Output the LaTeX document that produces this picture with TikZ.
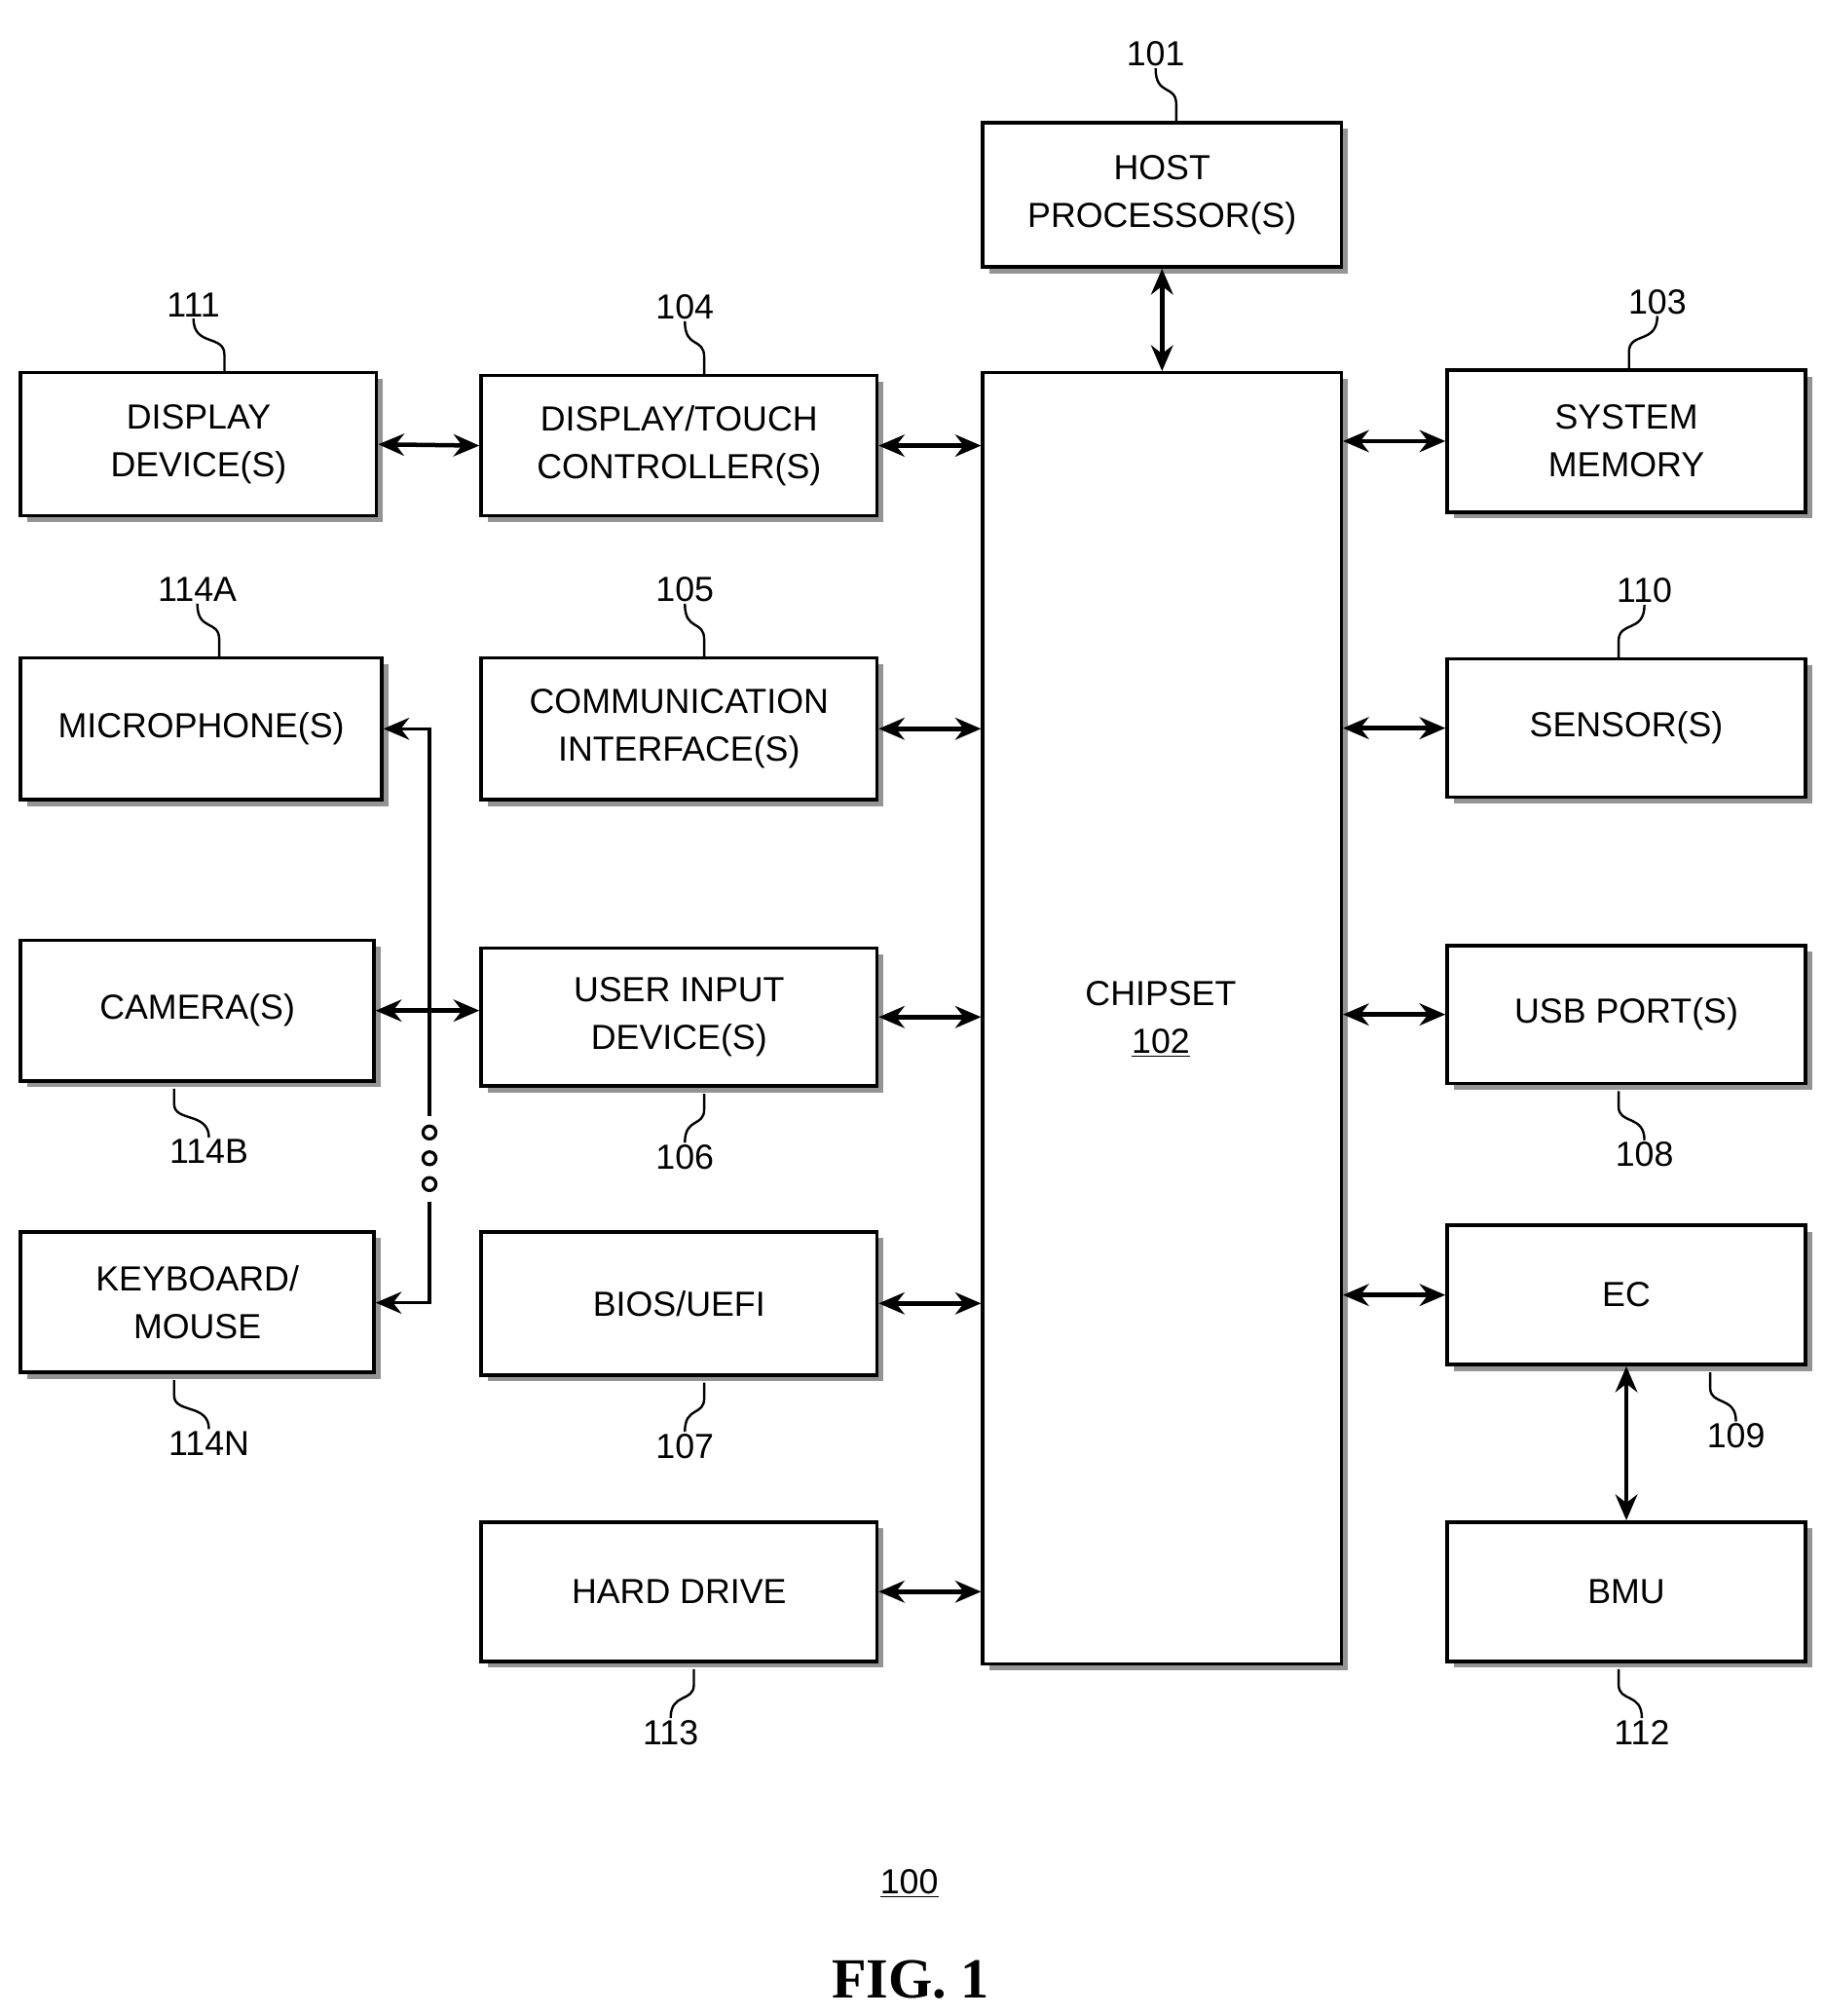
\documentclass[tikz,border=0pt]{standalone}
\usepackage{fontspec}
\setmainfont{Liberation Sans}
\newfontfamily\serifb{Liberation Serif}
\usetikzlibrary{shadows,arrows.meta}
\begin{document}
\begin{tikzpicture}[x=1pt,y=-1pt,
 box/.style={draw,line width=2.6pt,fill=white,align=center,inner sep=0,
   font=\fontsize{27}{37}\selectfont,
   drop shadow={shadow xshift=5pt,shadow yshift=-5pt,fill=black!70,opacity=0.6}},
 tip/.style={Stealth[length=20pt,width=17pt]},
 arr/.style={line width=3.4pt,{Stealth[length=20pt,width=17pt]}-{Stealth[length=20pt,width=17pt]}},
 lbl/.style={font=\fontsize{27}{30}\selectfont},
 ld/.style={line width=1.8pt}]
\useasboundingbox (0,0) rectangle (1414,1563);
\newcommand\bx[6]{\node[box,minimum width=#4-#2,minimum height=#5-#3] (#1) at ({(#2+#4)/2},{(#3+#5)/2}) {#6};}
\bx{host}{762}{95}{1040}{207}{HOST\\PROCESSOR(S)}
\bx{chip}{762}{289}{1040}{1290}{}
\node[font=\fontsize{27}{37}\selectfont,align=center] at (900,790) {CHIPSET\\\underline{102}};
\bx{dd}{16}{289}{292}{400}{DISPLAY\\DEVICE(S)}
\bx{dt}{373}{291}{680}{400}{DISPLAY/TOUCH\\CONTROLLER(S)}
\bx{sm}{1122}{287}{1400}{397}{SYSTEM\\MEMORY}
\bx{mic}{16}{510}{296}{620}{MICROPHONE(S)}
\bx{ci}{373}{510}{680}{620}{COMMUNICATION\\INTERFACE(S)}
\bx{sen}{1122}{511}{1400}{618}{SENSOR(S)}
\bx{cam}{16}{729}{290}{838}{CAMERA(S)}
\bx{ui}{373}{735}{680}{842}{USER INPUT\\DEVICE(S)}
\bx{usb}{1122}{733}{1400}{840}{USB PORT(S)}
\bx{kb}{16}{955}{290}{1064}{KEYBOARD/\\MOUSE}
\bx{bios}{373}{955}{680}{1066}{BIOS/UEFI}
\bx{ec}{1122}{950}{1400}{1058}{EC}
\bx{hd}{373}{1180}{680}{1288}{HARD DRIVE}
\bx{bmu}{1122}{1180}{1400}{1288}{BMU}
% arrows
\draw[arr] (host.south) -- (host.south|-chip.north);
\draw[arr] (dd.east) -- (dt.west);
\draw[arr] (dt.east) -- (dt.east-|chip.west);
\draw[arr] (ci.east) -- (ci.east-|chip.west);
\draw[arr] (ui.east) -- (ui.east-|chip.west);
\draw[arr] (bios.east) -- (bios.east-|chip.west);
\draw[arr] (hd.east) -- (hd.east-|chip.west);
\draw[arr] (sm.west-|chip.east) -- (sm.west);
\draw[arr] (sen.west-|chip.east) -- (sen.west);
\draw[arr] (usb.west-|chip.east) -- (usb.west);
\draw[arr] (ec.west-|chip.east) -- (ec.west);
\draw[arr] (ec.south) -- (bmu.north);
\draw[arr] (cam.east) -- (cam.east-|ui.west);
\coordinate (b1) at (333,865); \coordinate (b2) at (333,932);
\draw[line width=2.6pt,-{Stealth[length=20pt,width=17pt]}] (b1) -- (333,565) -- (mic.east);
\draw[line width=2.6pt,-{Stealth[length=20pt,width=17pt]}] (b2) -- (333,1010) -- (kb.east|-333,1010);
\foreach \y in {878,898,918} \draw[line width=2.4pt] (333,\y) circle (5);
% leaders and labels
\newcommand\up[4]{%
 \draw[ld] (#1,#2) -- (#1,#2-14) .. controls (#1,#2-30) and (#4,#2-20) .. (#4,#2-42);
 \node[lbl,anchor=south] at (#4,#2-40) {#3};}
\newcommand\dn[4]{%
 \draw[ld] (#1,#2) -- (#1,#2+12) .. controls (#1,#2+26) and (#4,#2+18) .. (#4,#2+38);
 \node[lbl,anchor=north] at (#4,#2+36) {#3};}
\up{912}{95}{101}{896}
\up{174}{289}{111}{150}
\up{546}{291}{104}{531}
\up{1263}{287}{103}{1285}
\up{170}{510}{114A}{153}
\up{546}{510}{105}{531}
\up{1255}{511}{110}{1275}
\dn{135}{844}{114B}{162}
\dn{546}{848}{106}{531}
\dn{1255}{846}{108}{1275}
\dn{135}{1070}{114N}{162}
\dn{546}{1072}{107}{531}
\dn{1326}{1064}{109}{1346}
\dn{538}{1294}{113}{520}
\dn{1255}{1294}{112}{1273}
\node[lbl] at (705,1460) {\underline{100}};
\node[font=\serifb\bfseries\fontsize{44}{48}\selectfont] at (706,1535) {FIG. 1};
\end{tikzpicture}
\end{document}
